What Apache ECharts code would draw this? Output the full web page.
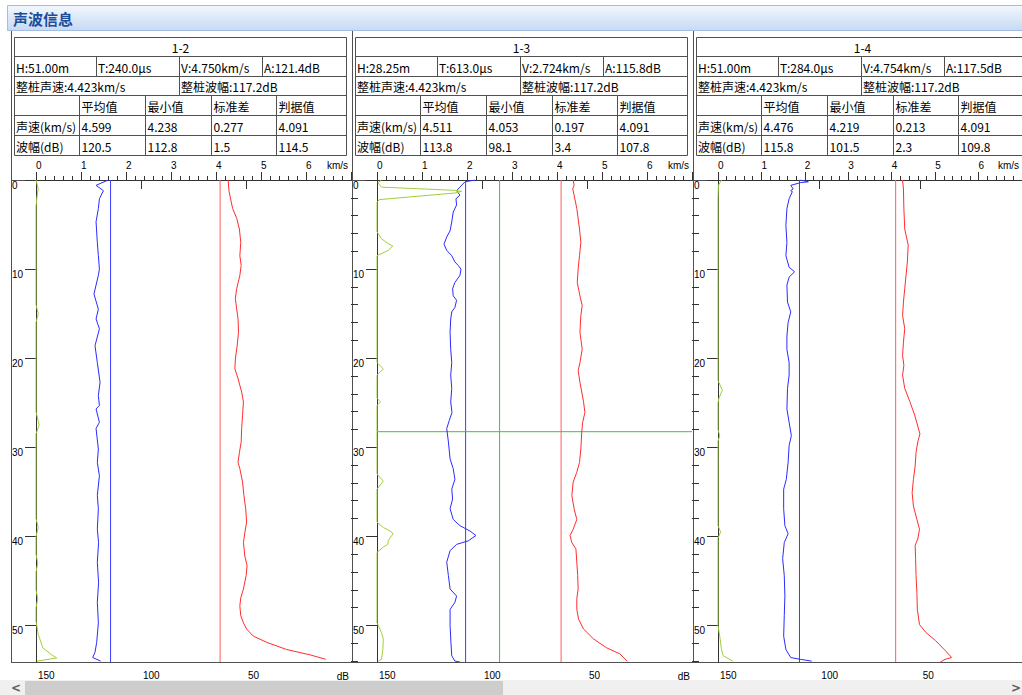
<!DOCTYPE html>
<html><head><meta charset="utf-8">
<script src="https://cdn.jsdelivr.net/npm/echarts@6/dist/echarts.min.js"></script>
<style>html,body{margin:0;padding:0;background:#fff;overflow:hidden}#c{width:1022px;height:695px}</style>
</head><body><div id="c"></div>
<script>
// ---------- data ----------
const panelNames = ['1-2', '1-3', '1-4'];
const cursorDepth = [51.00, 28.25, 51.00];
const cursorTime = [240.0, 613.0, 284.0];
const cursorVel = [4.750, 2.724, 4.754];
const cursorAmp = [121.4, 115.8, 117.5];
const cursorShown = [false, true, false];
const pileVel = 4.423;
const pileAmp = 117.2;
const statHeaders = ['平均值', '最小值', '标准差', '判据值'];
const rowLabels = ['声速(km/s)', '波幅(dB)'];
const velStats = [[4.599, 4.238, 0.277, 4.091], [4.511, 4.053, 0.197, 4.091], [4.476, 4.219, 0.213, 4.091]];
const ampStats = [[120.5, 112.8, 1.5, 114.5], [113.8, 98.1, 3.4, 107.8], [115.8, 101.5, 2.3, 109.8]];

const velTickLabels = [0, 1, 2, 3, 4, 5, 6];
const ampTickLabels = [150, 100, 50];
const depthTickLabels = [0, 10, 20, 30, 40, 50];
const depthMinorTicks = [2, 4, 6, 8, 12, 14, 16, 18, 22, 24, 26, 28, 32, 34, 36, 38, 42, 44, 46, 48, 52, 54];
const velUnit = 'km/s';
const ampUnit = 'dB';
const depthRange = [0, 54.1];
const velRange = [0, 7];
const ampRange = [0, 150];

// 1-2
const p12VelDepth = [0,1.3,3.2,4.3,5.5,7.0,8.5,9.6,10.7,12.2,13.3,14.5,15.6,17.1,18.6,20.1,21.2,22.3,23.8,24.9,26.4,27.9,29.4,30.6,31.7,32.4,33.9,35.4,36.9,38.4,39.6,40.7,42.2,43.3,44.4,45.9,46.9,47.8,48.9,49.7,50.4,51.2,51.9,52.7,53.3,53.8];
const p12Vel = [4.27,4.29,4.37,4.46,4.52,4.55,4.53,4.56,4.53,4.46,4.43,4.46,4.49,4.50,4.47,4.43,4.42,4.49,4.57,4.61,4.59,4.57,4.56,4.52,4.49,4.53,4.59,4.62,4.66,4.68,4.64,4.61,4.64,4.69,4.67,4.61,4.55,4.53,4.55,4.61,4.68,4.83,5.13,5.57,6.09,6.44];
const p12AmpDepth = [0,0.6,1.2,2.1,3.2,4.7,7.0,8.5,10.0,10.7,12.8,14.5,15.6,16.7,18.6,20.5,22.7,24.2,25.3,25.7,27.2,27.9,30.2,31.7,33.2,35.4,36.9,39.2,40.7,42.9,45.2,47.4,49.7,51.9,53.0,53.6,54.0];
const p12Amp = [115.6,121.4,117.9,119.8,120.3,121.4,120.8,120.3,119.8,120.3,122.4,120.3,121.4,119.8,121.9,120.8,119.5,120.3,119.8,121.4,119.8,121.4,120.3,120.8,119.8,120.8,120.3,120.8,120.2,120.8,120.2,120.8,120.3,121.1,121.9,123.0,119.2];
const p12PsdDepth = [0,1,2,3,14,15,16,26,27.5,28.5,38,39,40,42,43,44,46,47,48,49.5,51,52.5,53.3,53.65,54.0];
const p12Psd = [0,0.05,0.02,0,0,0.05,0,0,0.07,0,0,0.05,0,0,0.04,0,0,0.04,0,0,0.05,0.15,0.35,0.46,0.02];
// 1-3
const p13VelDepth = [0,0.6,1.0,1.7,3.2,5.5,7.0,8.5,10.0,11.5,13.0,14.1,15.2,17.1,19.0,20.5,21.4,22.7,24.9,26.1,27.2,28.3,30.2,31.7,32.8,33.9,35.4,36.9,38.1,39.2,39.9,40.7,41.4,42.9,44.4,45.9,47.0,48.2,49.3,50.4,51.5,52.5,53.2,54.0];
const p13Vel = [4.36,4.38,4.35,4.38,4.44,4.50,4.53,4.50,4.47,4.45,4.51,4.56,4.53,4.51,4.56,4.51,4.47,4.51,4.59,4.62,4.57,4.55,4.53,4.50,4.44,4.36,4.33,4.38,4.44,4.36,4.29,4.33,4.42,4.44,4.46,4.47,4.44,4.44,4.48,4.59,4.81,5.10,5.40,5.56];
const p13AmpDepth = [0,0.2,0.8,1.2,1.7,2.1,2.8,3.6,4.7,5.7,6.4,7.2,7.9,8.5,9.2,9.6,10.0,10.7,11.5,12.2,13.0,13.5,14.3,14.8,15.6,17.1,19.0,20.5,21.9,23.4,24.9,26.1,27.0,27.9,29.4,31.3,32.4,33.6,34.7,35.8,36.9,38.1,38.8,39.4,39.9,40.5,40.9,41.6,42.9,44.4,45.9,46.7,47.4,48.2,50.0,51.9,53.4,54.0,54.1];
const p13Amp = [103.3,108.1,110.5,112.1,110.5,112.4,112.1,113.7,114.4,115.2,116.8,118.1,116.8,114.4,112.9,111.3,110.0,110.5,112.9,114.0,113.7,112.1,112.9,114.4,114.9,115.2,114.9,114.4,114.9,114.4,114.9,114.3,115.6,116.8,116.0,115.2,113.7,112.9,114.4,114.0,115.2,113.7,110.5,105.7,102.9,106.5,112.1,115.2,116.8,116.0,115.2,112.1,112.9,115.2,115.2,114.8,114.4,112.9,110.5];
const p13PsdDepth = [0,0.3,0.8,1.16,1.27,1.46,2.2,2.5,5.8,6.6,7.15,7.4,7.9,8.5,20.5,21.2,21.9,24.5,24.9,25.3,33.0,33.8,34.7,38.4,39.0,39.4,39.7,40.1,40.5,40.9,41.2,41.8,49.7,50.8,51.5,52.7,53.8,54.0];
const p13Psd = [0.1,0.02,0.1,1.73,1.88,1.73,0.05,0,0,0.1,0.25,0.35,0.25,0,0,0.14,0,0,0.08,0,0,0.14,0,0,0.14,0.29,0.36,0.3,0.25,0.24,0.14,0,0,0.1,0.14,0.13,0.1,0.03];
// 1-4
const p14VelDepth = [0,1.0,3.2,5.5,7.3,9.2,10.7,12.2,13.7,15.2,16.7,18.2,19.7,20.8,21.9,23.4,24.9,26.4,28.5,29.4,30.6,32.1,33.6,35.1,36.6,38.1,39.2,40.3,41.0,42.5,44.4,46.3,48.2,49.9,50.8,51.7,52.8,53.6,53.8,54.1];
const p14Vel = [4.25,4.27,4.28,4.30,4.38,4.36,4.33,4.30,4.27,4.25,4.30,4.27,4.25,4.28,4.25,4.30,4.42,4.53,4.65,4.60,4.56,4.54,4.50,4.47,4.50,4.58,4.64,4.60,4.54,4.55,4.56,4.58,4.59,4.64,4.79,5.01,5.23,5.38,5.23,5.12];
const p14AmpDepth = [0,0.2,0.3,0.6,1.0,1.2,1.3,2.1,3.2,5.1,7.0,8.5,9.8,10.3,10.9,11.8,13.7,14.8,16.0,17.5,19.0,20.5,21.9,23.4,25.7,27.2,28.7,29.8,31.7,33.6,34.7,36.9,38.8,39.7,40.7,42.5,44.4,46.7,48.9,51.2,52.7,53.6,53.8,54.0];
const p14Amp = [109.4,105.4,109.4,114.1,112.9,114.1,113.3,114.9,116.0,116.5,116.0,116.5,114.9,112.2,114.9,116.0,115.7,114.1,115.4,116.0,116.0,114.9,114.9,115.7,116.0,114.9,113.8,114.9,115.4,116.3,117.6,117.6,117.0,115.4,117.3,118.1,117.3,117.0,117.3,117.6,116.5,114.1,109.4,103.8];
const p14PsdDepth = [0,0.6,2,22.5,23.6,24.5,25,28,28.7,29.3,38.8,39.5,40.2,50,51.2,52.7,53.4,54.0];
const p14Psd = [0.08,0.01,0,0,0.10,0.02,0,0,0.04,0,0,0.06,0,0,0.04,0.08,0.12,0.34];

// ---------- build ----------
const velSets = [[p12VelDepth, p12Vel], [p13VelDepth, p13Vel], [p14VelDepth, p14Vel]];
const ampSets = [[p12AmpDepth, p12Amp], [p13AmpDepth, p13Amp], [p14AmpDepth, p14Amp]];
const psdSets = [[p12PsdDepth, p12Psd], [p13PsdDepth, p13Psd], [p14PsdDepth, p14Psd]];
const zip = (d, v) => d.map((y, k) => [v[k], y]);

const W = 1022;
const LINE = '#505050';
const AX = '#333';
const TFONT = '12px "Noto Sans CJK SC"';
const AFONT = 'Liberation Sans';
const RED = '#ff2d2d', RED_T = '#ff5c5c', BLUE = '#2b2bff', BLUE_T = '#3b3bff', PSD = '#9fcf3a', CUR = '#3cc43c';
const grids = [], xAxes = [], yAxes = [], series = [], graphics = [];

// title bar
graphics.push({type: 'rect', shape: {x: 7.5, y: 5.5, width: 1020, height: 25},
  style: {fill: {type: 'linear', x: 0, y: 0, x2: 0, y2: 1, colorStops: [{offset: 0, color: '#f2f7fd'}, {offset: 1, color: '#c6daf4'}]}, stroke: '#a3bde3', lineWidth: 1}});
graphics.push({type: 'text', x: 13, y: 18, style: {text: '声波信息', fill: '#1c4e9c', font: 'bold 15px "Noto Sans CJK SC"', verticalAlign: 'middle'}});

const hl = (x1, x2, y) => ({type: 'line', shape: {x1, y1: y, x2, y2: y}, style: {stroke: LINE, lineWidth: 1}});
const vl = (x, y1, y2) => ({type: 'line', shape: {x1: x, y1, x2: x, y2}, style: {stroke: LINE, lineWidth: 1}});
const tx = (x, y, t, align, font) => ({type: 'text', x, y, style: {text: t, fill: '#000', font: font || TFONT, align: align || 'left', verticalAlign: 'middle'}});
const lineSeries = (name, xi, yi, color, data, z) => ({
  name, type: 'line', xAxisIndex: xi, yAxisIndex: yi, color, data, z: z || 2,
  showSymbol: false, symbol: 'none', silent: true, lineStyle: {color, width: 1}, emphasis: {disabled: true}
});

for (let i = 0; i < 3; i++) {
  const L = 11 + 341 * i;
  // panel frame
  graphics.push(vl(L + 0.5, 31, 662.5));
  graphics.push(hl(L, L + 341, 180.5));
  graphics.push(hl(L, L + 341, 662.5));
  // table
  const rows = [37.5, 56.5, 76.5, 95.5, 115.5, 135.5, 155.5];
  const tl = L + 3.5, tr = L + 335.5;
  rows.forEach(y => graphics.push(hl(tl, tr, y)));
  graphics.push(vl(tl, rows[0], rows[6]));
  graphics.push(vl(tr, rows[0], rows[6]));
  [85, 168, 251].forEach(o => graphics.push(vl(L + o + 0.5, rows[1], rows[2])));
  graphics.push(vl(L + 168.5, rows[2], rows[3]));
  const sc = [68, 134, 200, 265];
  sc.forEach(o => graphics.push(vl(L + o + 0.5, rows[3], rows[6])));
  const cy = k => (rows[k] + rows[k + 1]) / 2 + 0.5;
  graphics.push(tx((tl + tr) / 2, cy(0), panelNames[i], 'center'));
  graphics.push(tx(L + 5, cy(1), 'H:' + cursorDepth[i].toFixed(2) + 'm'));
  graphics.push(tx(L + 87, cy(1), 'T:' + cursorTime[i].toFixed(1) + 'μs'));
  graphics.push(tx(L + 170, cy(1), 'V:' + cursorVel[i].toFixed(3) + 'km/s'));
  graphics.push(tx(L + 253, cy(1), 'A:' + cursorAmp[i].toFixed(1) + 'dB'));
  graphics.push(tx(L + 5, cy(2), '整桩声速:' + pileVel.toFixed(3) + 'km/s'));
  graphics.push(tx(L + 170, cy(2), '整桩波幅:' + pileAmp.toFixed(1) + 'dB'));
  statHeaders.forEach((h, k) => graphics.push(tx(L + sc[k] + 2.5, cy(3), h)));
  graphics.push(tx(L + 5, cy(4), rowLabels[0]));
  graphics.push(tx(L + 5, cy(5), rowLabels[1]));
  velStats[i].forEach((v, k) => graphics.push(tx(L + sc[k] + 2.5, cy(4), v.toFixed(3))));
  ampStats[i].forEach((v, k) => graphics.push(tx(L + sc[k] + 2.5, cy(5), v.toFixed(1))));
  // dB unit under bottom axis (only where it falls inside the window)
  if (L + 338 <= W) graphics.push(tx(L + 338, 676, ampUnit, 'right', '10px "Liberation Sans"'));

  // grid & axes
  grids.push({left: L + 25, top: 180, width: 315, height: 482});
  xAxes.push({
    gridIndex: i, type: 'value', position: 'top', min: velRange[0], max: velRange[1], interval: 1,
    axisLine: {show: true, lineStyle: {color: AX}},
    axisTick: {show: true, length: 8, lineStyle: {color: AX}},
    minorTick: {show: true, splitNumber: 5, length: 4, lineStyle: {color: AX}},
    axisLabel: {customValues: velTickLabels, align: 'left', margin: 10, fontSize: 10, fontFamily: AFONT, color: '#000'},
    splitLine: {show: false},
    name: velUnit, nameLocation: 'end', nameGap: 0,
    nameTextStyle: {align: 'right', verticalAlign: 'bottom', padding: [0, 3, 10, 0], fontSize: 10, fontFamily: AFONT, color: '#000'}
  });
  xAxes.push({
    gridIndex: i, type: 'value', position: 'bottom', inverse: true, min: ampRange[0], max: ampRange[1], interval: 50,
    axisLine: {show: true, lineStyle: {color: AX}},
    axisTick: {show: true, length: 9, customValues: ampTickLabels, lineStyle: {color: AX}},
    axisLabel: {customValues: ampTickLabels, align: 'left', margin: 8, padding: [0, 0, 0, 2], fontSize: 10, fontFamily: AFONT, color: '#000'},
    splitLine: {show: false}
  });
  xAxes.push({gridIndex: i, type: 'value', show: false, min: velRange[0], max: velRange[1]});
  yAxes.push({
    gridIndex: i, type: 'value', inverse: true, min: depthRange[0], max: depthRange[1],
    axisLine: {show: true, lineStyle: {color: AX}},
    axisTick: {show: true, length: 11, customValues: depthTickLabels, lineStyle: {color: AX}},
    axisLabel: {customValues: depthTickLabels, align: 'left', verticalAlign: 'top', margin: 24, fontSize: 10, fontFamily: AFONT, color: '#000'},
    splitLine: {show: false}
  });
  yAxes.push({
    gridIndex: i, type: 'value', inverse: true, min: depthRange[0], max: depthRange[1],
    axisLine: {show: false},
    axisTick: {show: true, length: 7, customValues: depthMinorTicks, lineStyle: {color: AX}},
    axisLabel: {show: false}, splitLine: {show: false}
  });

  const xv = 3 * i, xa = 3 * i + 1, xp = 3 * i + 2, y = 2 * i;
  // criterion lines (判据值) for amplitude and velocity
  series.push(lineSeries('波幅判据值', xa, y, BLUE_T, [[ampStats[i][3], depthRange[0]], [ampStats[i][3], depthRange[1]]], 1));
  series.push(lineSeries('声速判据值', xv, y, RED_T, [[velStats[i][3], depthRange[0]], [velStats[i][3], depthRange[1]]], 1));
  if (cursorShown[i]) {
    series.push(lineSeries('光标', xv, y, CUR, [[cursorVel[i], depthRange[0]], [cursorVel[i], depthRange[1]], null,
      [velRange[0], cursorDepth[i]], [velRange[1], cursorDepth[i]]], 1));
  }
  series.push(lineSeries('波幅', xa, y, BLUE, zip(ampSets[i][0], ampSets[i][1])));
  series.push(lineSeries('PSD', xp, y, PSD, zip(psdSets[i][0], psdSets[i][1])));
  series.push(lineSeries('声速', xv, y, RED, zip(velSets[i][0], velSets[i][1])));
}

// scroll bar
graphics.push({type: 'rect', shape: {x: 0, y: 680, width: 1022, height: 15}, style: {fill: '#f0f0f0'}});
graphics.push({type: 'rect', shape: {x: 25, y: 681, width: 478, height: 14}, style: {fill: '#cdcdcd'}});
graphics.push({type: 'text', x: 16, y: 688, style: {text: '<', fill: '#606060', font: 'bold 12px "DejaVu Sans"', align: 'center', verticalAlign: 'middle'}});
graphics.push({type: 'text', x: 1016, y: 688, style: {text: '>', fill: '#606060', font: 'bold 12px "DejaVu Sans"', align: 'center', verticalAlign: 'middle'}});

const chart = echarts.init(document.getElementById('c'), null, {renderer: 'svg', width: 1022, height: 695});
chart.setOption({
  animation: false,
  backgroundColor: '#ffffff',
  grid: grids,
  xAxis: xAxes,
  yAxis: yAxes,
  series: series,
  graphic: {elements: graphics}
});
</script></body></html>
